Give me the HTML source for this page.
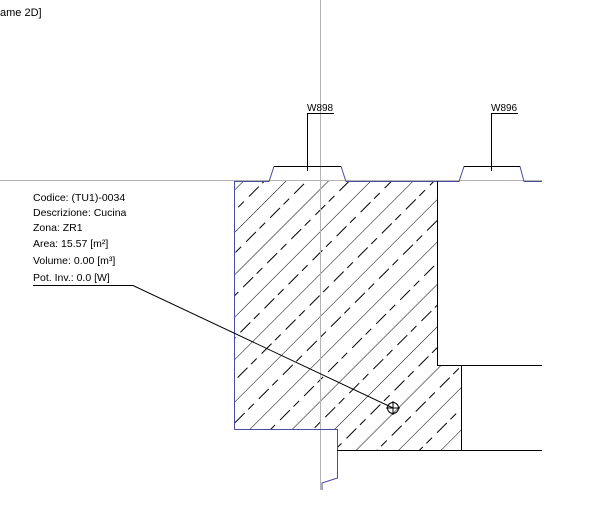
<!DOCTYPE html>
<html><head><meta charset="utf-8"><style>
html,body{margin:0;padding:0;background:#fff;width:601px;height:530px;overflow:hidden}
svg{display:block}
text{font-family:"Liberation Sans",sans-serif;fill:#000}
</style></head><body>
<svg width="601" height="530" viewBox="0 0 601 530" xmlns="http://www.w3.org/2000/svg">
<defs>
<clipPath id="c"><polygon points="234,181 437,181 437,365 461,365 461,450 337,450 337,429 234,429"/></clipPath>
<pattern id="h" patternUnits="userSpaceOnUse" width="34" height="30" patternTransform="rotate(-45)">
<line x1="0" y1="0" x2="34" y2="0" stroke="#000" stroke-width="1"/>
<line x1="3" y1="15" x2="17" y2="15" stroke="#000" stroke-width="1"/>
<line x1="22" y1="15" x2="30" y2="15" stroke="#000" stroke-width="1"/>
</pattern>
</defs>
<text x="0" y="16" font-size="11">ame 2D]</text>
<rect x="234" y="181" width="227" height="269" fill="url(#h)" clip-path="url(#c)"/>
<line x1="320.5" y1="0" x2="320.5" y2="490" stroke="#b4b4b4"/>
<line x1="0" y1="180.5" x2="542" y2="180.5" stroke="#b4b4b4"/>
<polyline points="234.5,429 234.5,181.5 269,181.5 274,166.5 341,166.5 346,181.5 459,181.5 464,166.5 520,166.5 524,181.5 542,181.5" fill="none" stroke="#4b4ba0"/>
<polyline points="234.5,429 234.5,429.5 337.5,429.5 337.5,478 322,483 322,490" fill="none" stroke="#4b4ba0"/>
<g stroke="#000" fill="none">
<line x1="274" y1="166.5" x2="341" y2="166.5"/>
<line x1="464" y1="166.5" x2="520" y2="166.5"/>
<polyline points="307.5,171 307.5,113.5 334,113.5"/>
<polyline points="491.5,171 491.5,113.5 518,113.5"/>
<polyline points="437.5,181 437.5,365.5 542,365.5"/>
<line x1="461.5" y1="365" x2="461.5" y2="450"/>
<line x1="337" y1="450.5" x2="542" y2="450.5"/>
<polyline points="33,285.5 133,285.5 393,408"/>
<circle cx="393" cy="408" r="5.5"/>
<line x1="386" y1="408" x2="400" y2="408"/>
<line x1="393" y1="401" x2="393" y2="415"/>
</g>
<text x="307" y="111" font-size="10">W898</text>
<text x="491" y="111" font-size="10">W896</text>
<g font-size="10.5">
<text x="33" y="201">Codice: (TU1)-0034</text>
<text x="33" y="216">Descrizione: Cucina</text>
<text x="33" y="231">Zona: ZR1</text>
<text x="33" y="247">Area: 15.57 [m²]</text>
<text x="33" y="264">Volume: 0.00 [m³]</text>
<text x="33" y="281">Pot. Inv.: 0.0 [W]</text>
</g>
</svg>
</body></html>
